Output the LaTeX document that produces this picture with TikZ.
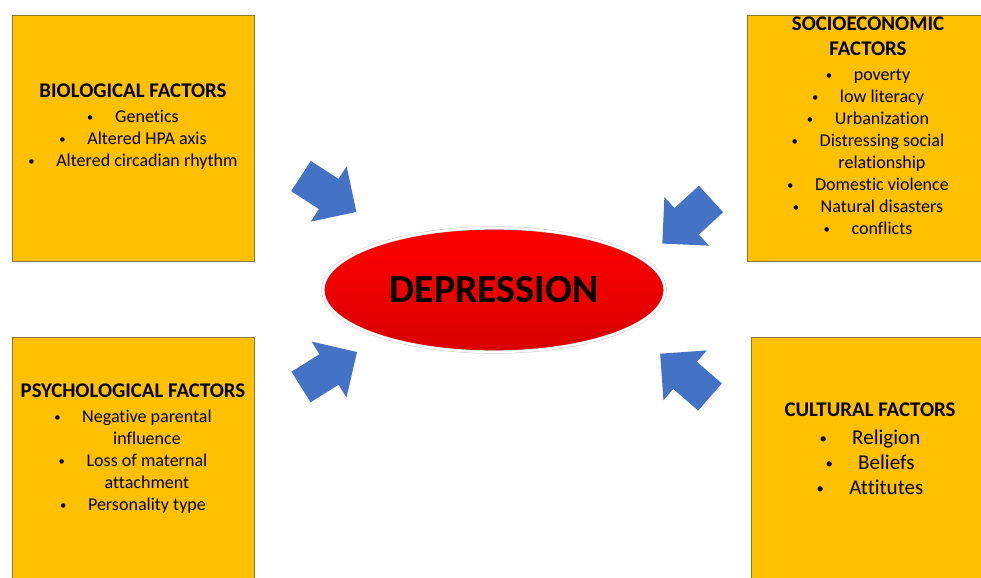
\documentclass[tikz,border=0pt]{standalone}
\usepackage{fontspec}
\setmainfont[Ligatures=NoCommon]{Carlito}
\usetikzlibrary{positioning,calc,shapes.geometric}

\definecolor{boxgold}{RGB}{255,192,0}
\definecolor{boxedge}{RGB}{140,120,60}
\definecolor{arrowblue}{RGB}{68,114,196}

\newcommand{\dotmark}{\raisebox{0.12ex}{\scalebox{0.7}{\textbullet}}}
\newcommand{\itm}[1]{\dotmark\hspace{1.2em}#1}
\newcommand{\cnt}[1]{\phantom{\dotmark\hspace{1.2em}}#1}
\newcommand{\ftitle}[1]{{\fontsize{17.8}{18.8}\selectfont\bfseries #1}}

\tikzset{
  every node/.append style={font=\fontsize{15.4}{18.8}\selectfont},
  blockarrow/.pic={
    \fill[arrowblue] (0,-18) -- (33,-18) -- (33,-33) -- (66,0)
      -- (33,33) -- (33,18) -- (0,18) -- cycle;
  }
}

\begin{document}
\begin{tikzpicture}[
  x=0.03cm, y=0.03cm,
  % --- Styles ---
  factor/.style={
    rectangle, draw=boxedge, fill=boxgold, thin,
    minimum width=7.26cm, minimum height=7.38cm
  },
  factortext/.style={align=center, inner sep=0pt},
  core/.style={
    ellipse, draw=gray!45, double=white, double distance=2pt,
    top color=red, bottom color=red!85!black,
    minimum width=10.26cm, minimum height=3.72cm,
    font=\fontsize{34}{38}\selectfont\bfseries
  }
]
\useasboundingbox (0,0) rectangle (981,577);
\clip (0,0) rectangle (981,577);

% ---- Factor boxes ----
\node[factor] (bio)   at (133,439) {};
\node[factor] (socio) at (868,439) {};
\node[factor] (psych) at (133,117) {};
\node[factor] (cult)  at (872,117) {};

% ---- Box texts ----
\node[factortext] (biotext) at ($(bio.center)+(0,11)$)
  {\ftitle{BIOLOGICAL FACTORS}\\[2.6pt]
   \itm{Genetics}\\
   \itm{Altered HPA axis}\\
   \itm{Altered circadian rhythm}};

\node[factortext] (sociotext) at ($(socio.center)+(0,12)$)
  {\ftitle{SOCIOECONOMIC}\\[2.6pt]
   \ftitle{FACTORS}\\[2.6pt]
   \itm{poverty}\\
   \itm{low literacy}\\
   \itm{Urbanization}\\
   \itm{Distressing social}\\
   \cnt{relationship}\\
   \itm{Domestic violence}\\
   \itm{Natural disasters}\\
   \itm{conflicts}};

\node[factortext] (psychtext) at ($(psych.center)+(0,11)$)
  {\ftitle{PSYCHOLOGICAL FACTORS}\\[2.6pt]
   \itm{Negative parental}\\
   \cnt{influence}\\
   \itm{Loss of maternal}\\
   \cnt{attachment}\\
   \itm{Personality type}};

\node[factortext, font=\fontsize{18}{21.3}\selectfont] (culttext) at ($(cult.center)+(-2,11)$)
  {\ftitle{CULTURAL FACTORS}\\[2.5pt]
   \itm{Religion}\\
   \itm{Beliefs}\\
   \itm{Attitutes}};

% ---- Centre ----
\node[core] (dep) at (494,287) {DEPRESSION};

% ---- Block arrows towards the centre ----
\pic[rotate=-33]    (arrbio)   at (301,401) {blockarrow};
\pic[rotate=-137.5] (arrsocio) at (711,378) {blockarrow};
\pic[rotate=32]     (arrpsych) at (301,190) {blockarrow};
\pic[rotate=139]    (arrcult)  at (710,180) {blockarrow};

\end{tikzpicture}
\end{document}
